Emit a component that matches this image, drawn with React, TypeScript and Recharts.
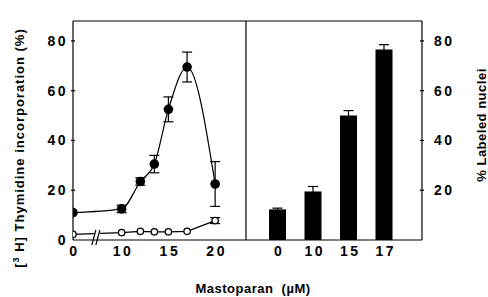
import React from 'react';
import {
  ComposedChart, Line, XAxis, YAxis, ErrorBar, ReferenceLine, ReferenceDot, BarChart, Bar,
} from 'recharts';

// left panel: [3H]thymidine incorporation vs mastoparan (uM)
const concentrations = [0, 10, 12, 13.5, 15, 17, 20];
const mastoparan = [11, 12.5, 23.5, 30.5, 52.5, 69.5, 22.5];
const mastoparanErr = [null, 1.5, 1.5, 3.5, 5, 6, 9];
const control = [2.3, 3, 3.5, 3.3, 3.3, 3.5, 7.8];
const controlErr = [null, null, null, null, null, null, 1.2];
const xTicks = [0, 10, 15, 20];

// right panel: % labeled nuclei
const nucleiCats = ['0', '10', '15', '17'];
const nucleiValues = [12.3, 19.5, 50, 76.5];
const nucleiErr = [0.5, 2, 2, 2];

const yTicks = [0, 20, 40, 60, 80];
const rightTicks = [20, 40, 60, 80];

const BREAK_POS = 4.8; // 0 is drawn here, left of the axis break
const BREAK_MARK = 7.35;
const X_MAX = 23.3;
const Y_MAX = 88;

const toPos = (c: number) => (c === 0 ? BREAK_POS : c);

const leftData = concentrations.map((c, i) => ({
  pos: toPos(c),
  masto: mastoparan[i],
  mastoErr: mastoparanErr[i],
  ctrl: control[i],
  ctrlErr: controlErr[i],
}));

const barData = nucleiCats.map((cat, i) => ({
  cat,
  value: nucleiValues[i],
  err: nucleiErr[i],
}));

const FONT = '"Liberation Sans", Arial, sans-serif';
const tickStyle = { fontFamily: FONT, fontWeight: 700, fontSize: 14, letterSpacing: 2.5, fill: '#000' };

const LeftYTick = (props: any) => {
  const { x, y, payload } = props;
  return (
    <g>
      {payload.value !== 0 && <line x1={x} y1={y} x2={x + 4} y2={y} stroke="#000" strokeWidth={1.2} />}
      <text x={x - 3} y={y} dy="0.36em" textAnchor="end" style={tickStyle}>{payload.value}</text>
    </g>
  );
};

const RightYTick = (props: any) => {
  const { x, y, payload } = props;
  return (
    <g>
      <line x1={x} y1={y} x2={x - 4} y2={y} stroke="#000" strokeWidth={1.2} />
      <text x={x + 10} y={y} dy="0.36em" textAnchor="start" style={tickStyle}>{payload.value}</text>
    </g>
  );
};

const LeftXTick = (props: any) => {
  const { x, y, payload } = props;
  const label = payload.value === BREAK_POS ? '0' : String(payload.value);
  return (
    <text x={x + 1.5} y={y + 14} textAnchor="middle" style={tickStyle}>{label}</text>
  );
};

const BarXTick = (props: any) => {
  const { x, y, payload } = props;
  return (
    <text x={x + 1.5} y={y + 14} textAnchor="middle" style={tickStyle}>{payload.value}</text>
  );
};

const BreakMark = (props: any) => {
  const { cx, cy } = props;
  return (
    <g>
      <rect x={cx - 3} y={cy - 9} width={6} height={8} fill="#fff" />
      <line x1={cx - 5} y1={cy + 5} x2={cx - 1} y2={cy - 10} stroke="#000" strokeWidth={1.2} />
      <line x1={cx - 1} y1={cy + 5} x2={cx + 3} y2={cy - 10} stroke="#000" strokeWidth={1.2} />
    </g>
  );
};

const FilledDot = (props: any) => {
  const { cx, cy } = props;
  return <circle cx={cx} cy={cy} r={4.8} fill="#000" />;
};

const OpenDot = (props: any) => {
  const { cx, cy } = props;
  return <circle cx={cx} cy={cy} r={3.2} fill="#fff" stroke="#000" strokeWidth={1.3} />;
};

export default function App() {
  return (
    <div style={{ position: 'absolute', left: 0, top: 0, width: 488, height: 297, background: '#fff' }}>
      <div style={{ position: 'absolute', left: 0, top: 0 }}>
        <ComposedChart width={250} height={297} data={leftData} margin={{ top: 21, right: 4, bottom: 27, left: 0 }}>
          <XAxis
            dataKey="pos"
            type="number"
            domain={[BREAK_POS, X_MAX]}
            ticks={xTicks.map(toPos)}
            tick={<LeftXTick />}
            tickLine={false}
            tickSize={0}
            height={30}
            axisLine={{ stroke: '#000', strokeWidth: 1.2 }}
            allowDataOverflow
          />
          <YAxis
            type="number"
            domain={[0, Y_MAX]}
            ticks={yTicks}
            tick={<LeftYTick />}
            tickLine={false}
            tickSize={0}
            width={73}
            axisLine={{ stroke: '#000', strokeWidth: 1.2 }}
          />
          <ReferenceLine y={Y_MAX} stroke="#000" strokeWidth={1.2} />
          <ReferenceLine x={X_MAX} stroke="#000" strokeWidth={1.2} />
          <Line
            dataKey="ctrl"
            type="linear"
            stroke="#000"
            strokeWidth={1.2}
            dot={<OpenDot />}
            isAnimationActive={false}
          >
            <ErrorBar dataKey="ctrlErr" width={5} stroke="#000" strokeWidth={1.2} direction="y" />
          </Line>
          <ReferenceDot x={BREAK_MARK} y={0} r={0} shape={<BreakMark />} />
          <Line
            dataKey="masto"
            type="monotone"
            stroke="#000"
            strokeWidth={1.2}
            dot={<FilledDot />}
            isAnimationActive={false}
          >
            <ErrorBar dataKey="mastoErr" width={5} stroke="#000" strokeWidth={1.2} direction="y" />
          </Line>
        </ComposedChart>
      </div>
      <div style={{ position: 'absolute', left: 246, top: 0 }}>
        <BarChart width={242} height={297} data={barData} margin={{ top: 21, right: 6, bottom: 27, left: 0 }}>
          <XAxis
            dataKey="cat"
            padding={{ left: 14, right: 20 }}
            tick={<BarXTick />}
            tickLine={false}
            tickSize={0}
            height={30}
            axisLine={{ stroke: '#000', strokeWidth: 1.2 }}
          />
          <YAxis
            orientation="right"
            type="number"
            domain={[0, Y_MAX]}
            ticks={rightTicks}
            tick={<RightYTick />}
            tickLine={false}
            tickSize={0}
            width={60}
            axisLine={{ stroke: '#000', strokeWidth: 1.2 }}
          />
          <ReferenceLine y={Y_MAX} stroke="#000" strokeWidth={1.2} />
          <Bar dataKey="value" fill="#000" barSize={17} isAnimationActive={false}>
            <ErrorBar dataKey="err" width={5} stroke="#000" strokeWidth={1.2} direction="y" />
          </Bar>
        </BarChart>
      </div>
      <svg width={488} height={297} style={{ position: 'absolute', left: 0, top: 0, pointerEvents: 'none' }}>
        <text
          transform="translate(24,148) rotate(-90)"
          textAnchor="middle"
          style={{ fontFamily: FONT, fontWeight: 700, fontSize: 13, letterSpacing: 1, fill: '#000' }}
        >
          [<tspan dy={-5} fontSize={9}>3</tspan><tspan dy={5}> H] Thymidine  incorporation  (%)</tspan>
        </text>
        <text
          transform="translate(486,125) rotate(-90)"
          textAnchor="middle"
          style={{ fontFamily: FONT, fontWeight: 700, fontSize: 13, letterSpacing: 0.5, fill: '#000' }}
        >
          % Labeled nuclei
        </text>
        <text
          x={253}
          y={293}
          textAnchor="middle"
          style={{ fontFamily: FONT, fontWeight: 700, fontSize: 13, letterSpacing: 0.5, fill: '#000', whiteSpace: 'pre' }}
        >
          {'Mastoparan  (\u00b5M)'}
        </text>
      </svg>
    </div>
  );
}
